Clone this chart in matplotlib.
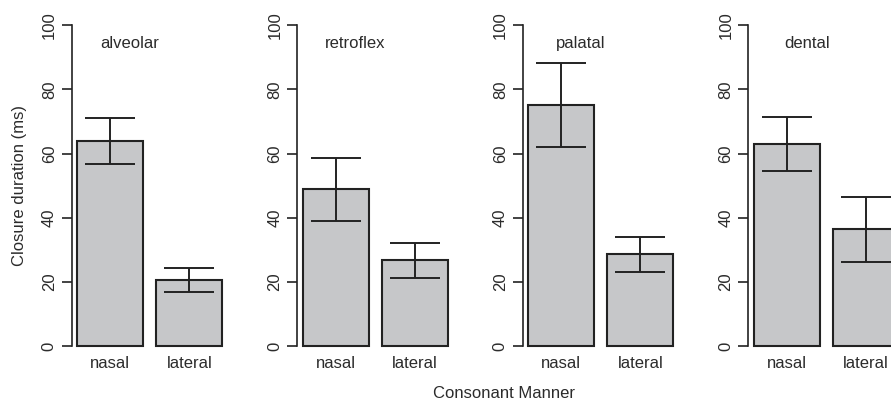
import numpy as np
import matplotlib
matplotlib.use("Agg")
import matplotlib.pyplot as plt

plt.rcParams["font.family"] = ["Liberation Sans", "DejaVu Sans"]

places = ["alveolar", "retroflex", "palatal", "dental"]
manners = ["nasal", "lateral"]

# mean closure duration (ms) per place: [nasal, lateral]
means = [
    [64.0, 20.6],
    [48.9, 26.8],
    [75.2, 28.6],
    [63.0, 36.4],
]
err_low = [
    [56.9, 16.9],
    [39.0, 21.3],
    [62.1, 23.1],
    [54.6, 26.2],
]
err_high = [
    [71.1, 24.5],
    [58.7, 32.3],
    [88.3, 33.9],
    [71.3, 46.5],
]

bar_color = "#c6c7c9"
ink = "#222222"
text_color = "#2b2b2b"

W, H = 891, 404
fig = plt.figure(figsize=(W / 100, H / 100), dpi=100)

# bar centres as in an R barplot (width 1, space 0.2)
centres = np.array([0.7, 1.9])

for i, place in enumerate(places):
    left_px = 71.5 + 225.5 * i
    ax = fig.add_axes([left_px / W, (H - 359.2) / H, 156.8 / W, (359.2 - 12.15) / H])

    m = np.array(means[i])
    lo = m - np.array(err_low[i])
    hi = np.array(err_high[i]) - m

    ax.bar(centres, m, width=1.0, color=bar_color, edgecolor=ink, linewidth=1.5)
    ax.errorbar(centres, m, yerr=[lo, hi], fmt="none", ecolor=ink,
                elinewidth=1.4, capsize=18, capthick=1.4)

    ax.text(1.0, 94.2, place, ha="center", va="center", fontsize=12, color=text_color)

    ax.set_xlim(0.112, 2.488)
    ax.set_ylim(-4, 104)

    for side in ["top", "right", "bottom"]:
        ax.spines[side].set_visible(False)
    ax.spines["left"].set_bounds(0, 100)
    ax.spines["left"].set_color(ink)
    ax.spines["left"].set_linewidth(1.2)

    ax.set_yticks([0, 20, 40, 60, 80, 100])
    ax.tick_params(axis="y", length=7.2, width=1.2, color=ink, pad=3.4,
                   labelsize=12, labelcolor=text_color)
    for lab in ax.get_yticklabels():
        lab.set_rotation(90)
        lab.set_va("center")

    ax.set_xticks(centres)
    ax.set_xticklabels(manners)
    ax.tick_params(axis="x", length=0, pad=-2.2, labelsize=12, labelcolor=text_color)

    ax.patch.set_visible(False)

    if i == 0:
        ax.set_ylabel("Closure duration (ms)", fontsize=12, color=text_color, labelpad=10.5)

fig.text(504 / W, 1 - 393 / H, "Consonant Manner", ha="center", va="center",
         fontsize=12, color=text_color)

fig.savefig("out.png", dpi=100)
